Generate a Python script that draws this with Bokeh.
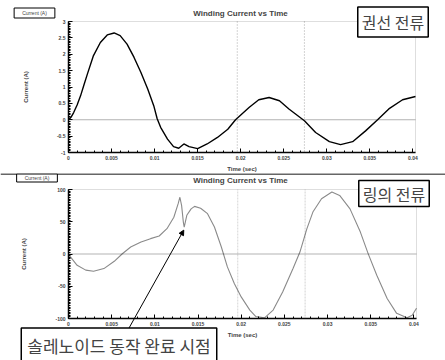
from bokeh.plotting import figure
from bokeh.layouts import column
from bokeh.models import (Span, Label, Arrow, NormalHead, FixedTicker, Range1d,
                          LinearAxis, BoxAnnotation)
from bokeh.embed import file_html
from bokeh.resources import INLINE

# ---- data ----
time_winding = [0, 0.0003, 0.0006, 0.0010, 0.0014, 0.0018, 0.0022, 0.0029, 0.0037, 0.0045, 0.0053,
                0.0060, 0.0068, 0.0076, 0.0084, 0.0092, 0.0099, 0.0103, 0.0107, 0.0115, 0.0122,
                0.0128, 0.0134, 0.0140, 0.0150, 0.0161, 0.0173, 0.0185, 0.0194, 0.0210, 0.0221,
                0.0233, 0.0245, 0.0256, 0.0274, 0.0287, 0.0303, 0.0316, 0.0330, 0.0345, 0.0359,
                0.0372, 0.0388, 0.0403]
current_winding = [0.02, 0.08, 0.22, 0.45, 0.73, 1.07, 1.40, 1.96, 2.36, 2.59, 2.65,
                   2.57, 2.31, 1.91, 1.45, 0.94, 0.43, 0.03, -0.23, -0.59, -0.82,
                   -0.87, -0.74, -0.82, -0.88, -0.74, -0.54, -0.29, 0.0, 0.38, 0.61,
                   0.68, 0.58, 0.33, -0.03, -0.39, -0.67, -0.76, -0.67, -0.34, 0.0,
                   0.33, 0.61, 0.71]

time_ring = [0, 0.0002, 0.0010, 0.0020, 0.0029, 0.0041, 0.0053, 0.0062, 0.0072, 0.0084, 0.0095,
             0.0105, 0.0114, 0.0122, 0.0127, 0.0129, 0.0131, 0.0133, 0.0134, 0.0137, 0.0142,
             0.0146, 0.0153, 0.0161, 0.0169, 0.0177, 0.0184, 0.0192, 0.0200, 0.0210, 0.0217,
             0.0227, 0.0237, 0.0248, 0.0260, 0.0268, 0.0276, 0.0283, 0.0293, 0.0305, 0.0314,
             0.0326, 0.0338, 0.0347, 0.0357, 0.0369, 0.0380, 0.0392, 0.0398, 0.0403]
current_ring = [-2, -4, -17.5, -25, -26.8, -22.6, -11.3, 0, 10.8, 18.6, 23.8,
                27.9, 39.2, 57, 78, 88, 75, 49.5, 41.8, 60, 70,
                73.8, 71, 62.5, 41.8, 10.8, -20, -45.8, -66.5, -87, -97,
                -99, -87, -58.8, -22.6, 3, 39, 65, 85.7, 96, 90.8,
                70, 34, 0.6, -33, -69, -92, -99, -95, -84]

x_ticks = [0, 0.005, 0.01, 0.015, 0.02, 0.025, 0.03, 0.035, 0.04]
x_tick_labels = ["0", "0.005", "0.01", "0.015", "0.02", "0.025", "0.03", "0.035", "0.04"]
y_ticks_winding = [-1, -0.5, 0, 0.5, 1, 1.5, 2, 2.5, 3]
y_tick_labels_winding = ["-1", "-0.5", "0", "0.5", "1", "1.5", "2", "2.5", "3"]
y_ticks_ring = [-100, -50, 0, 50, 100]
y_tick_labels_ring = ["-100", "-50", "0", "50", "100"]
guide_times = [0.0196, 0.0274]

title_text = "Winding Current vs Time"
x_label = "Time (sec)"
y_label = "Current (A)"
legend_text = "Current (A)"
note_winding = "권선 전류"
note_ring = "링의 전류"
note_solenoid = "솔레노이드 동작 완료 시점"
arrow_start = (0.0070, -115)
arrow_end = (0.01335, 37)

T_END = 0.0403
FONT = "Liberation Sans"
KFONT = "Noto Sans CJK KR"


def make_chart(W, H, box, y0, y1, yt, ytl, minor_step):
    """box = (left, right, top, bottom) pixel edges of the data area in the canvas."""
    left, right, top, bottom = box
    kx = T_END / (right - left)
    ky = (y1 - y0) / (bottom - top)
    xr = Range1d(0 - left * kx, T_END + (W - right) * kx)
    yr = Range1d(y0 - (H - bottom) * ky, y1 + top * ky)
    p = figure(width=W, height=H, output_backend="svg", toolbar_location=None,
               x_range=xr, y_range=yr, x_axis_type=None, y_axis_type=None,
               min_border=0, min_border_left=0, min_border_right=0,
               min_border_top=0, min_border_bottom=0)
    p.outline_line_color = None
    p.background_fill_color = "white"
    p.border_fill_color = "white"
    p.xgrid.visible = False
    p.ygrid.visible = False

    xa = LinearAxis(fixed_location=y0, bounds=(0, T_END), axis_label=x_label,
                    ticker=FixedTicker(ticks=x_ticks, minor_ticks=[i * 0.001 for i in range(41)]))
    xa.major_label_overrides = dict(zip(x_ticks, x_tick_labels))
    n_minor = int(round((y1 - y0) / minor_step)) + 1
    ya = LinearAxis(fixed_location=0, bounds=(y0, y1), axis_label=y_label,
                    ticker=FixedTicker(ticks=yt,
                                       minor_ticks=[y0 + i * minor_step for i in range(n_minor)]))
    ya.major_label_overrides = dict(zip(yt, ytl))
    for ax in (xa, ya):
        ax.axis_line_color = "black"
        ax.axis_line_width = 1.5
        ax.major_tick_in = 4
        ax.major_tick_out = 0
        ax.minor_tick_in = 2
        ax.minor_tick_out = 0
        ax.major_tick_line_color = "black"
        ax.minor_tick_line_color = "black"
        ax.major_label_text_font = FONT
        ax.major_label_text_font_size = "5px"
        ax.major_label_text_font_style = "bold"
        ax.major_label_standoff = 3
        ax.axis_label_text_font = FONT
        ax.axis_label_text_font_size = "6px"
        ax.axis_label_text_font_style = "bold"
    xa.axis_label_standoff = 3
    ya.axis_label_standoff = 25
    p.add_layout(xa, "below")
    p.add_layout(ya, "left")

    # dotted frame of the data area
    p.add_layout(BoxAnnotation(left=0, right=T_END, bottom=y0, top=y1, fill_alpha=0,
                               line_color="#222222", line_dash="1 1", line_width=1))
    # zero line across the data area
    p.add_layout(BoxAnnotation(left=0, right=T_END, bottom=0, top=0, fill_alpha=0,
                               line_color="#000000", line_width=1.1))
    # dotted vertical guides
    for g in guide_times:
        p.add_layout(BoxAnnotation(left=g, right=g, bottom=y0, top=y1, fill_alpha=0,
                                   line_color="#444444", line_dash="1 2", line_width=0.8))
    return p


def text_box(x, y, text, size, font, pad, bw, style="normal"):
    return Label(x=x, y=y, x_units="screen", y_units="screen", text=text,
                 text_font=font, text_font_size=size, text_font_style=style,
                 text_align="center", text_baseline="middle",
                 border_line_color="black", border_line_width=bw,
                 background_fill_color="white", padding=pad)


def title_label(x, y):
    return Label(x=x, y=y, x_units="screen", y_units="screen", text=title_text,
                 text_font=FONT, text_font_size="8px", text_font_style="bold",
                 text_align="center", text_baseline="middle")


# ---- top chart: winding current ----
H1 = 173
p1 = make_chart(445, H1, (68, 415, 21, 152), -1, 3, y_ticks_winding, y_tick_labels_winding, 0.05)
p1.line(time_winding, current_winding, line_color="black", line_width=1.4)
p1.add_layout(title_label(240, H1 - 12.5))
p1.add_layout(text_box(392.5, H1 - 21.5, note_winding, "16px", KFONT, (4, 3), 1.5))
p1.add_layout(text_box(34, H1 - 12.5, legend_text, "5px", FONT, (8, 2), 1))

# ---- bottom chart: ring current ----
H2 = 187
p2 = make_chart(445, H2, (68, 416, 16, 145), -100, 100, y_ticks_ring, y_tick_labels_ring, 2.5)
p2.line(time_ring, current_ring, line_color="#8a8a8a", line_width=1.1)
p2.add_layout(Span(location=H2 - 0.5, location_units="screen", dimension="width",
                   line_color="#333333", line_width=1.5))
p2.add_layout(Arrow(end=NormalHead(size=5, fill_color="black", line_color="black"),
                    x_start=arrow_start[0], y_start=arrow_start[1],
                    x_end=arrow_end[0], y_end=arrow_end[1],
                    line_color="black", line_width=1))
p2.add_layout(title_label(240, H2 - 7))
p2.add_layout(text_box(393.5, H2 - 20, note_ring, "16px", KFONT, (4, 1), 1.5))
p2.add_layout(text_box(118.5, 15, note_solenoid, "17px", KFONT, (6, 5), 1.5))
p2.add_layout(text_box(36.5, H2 - 4.5, legend_text, "5px", FONT, (8, 1), 1))

layout = column(p1, p2, spacing=0)
open("out.html", "w").write(file_html(layout, INLINE))
